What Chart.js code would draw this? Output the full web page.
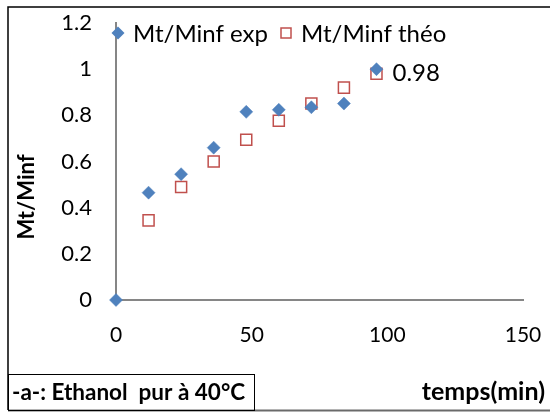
<!DOCTYPE html>
<html>
<head>
<meta charset="utf-8">
<script src="https://cdn.jsdelivr.net/npm/chart.js@4/dist/chart.umd.min.js"></script>
<style>
  html, body { margin: 0; padding: 0; background: #fff; }
  #wrap { width: 550px; height: 414px; position: relative; }
</style>
</head>
<body>
<div id="wrap"><canvas id="c" width="550" height="414"></canvas></div>
<script>
// ---- data ----
const timeMin = [0, 12, 24, 36, 48, 60, 72, 84, 96];
const expValues = [0, 0.465, 0.545, 0.66, 0.815, 0.824, 0.835, 0.851, 1.0];
const theoTime = [12, 24, 36, 48, 60, 72, 84, 96];
const theoValues = [0.345, 0.49, 0.60, 0.694, 0.777, 0.851, 0.92, 0.98];
const xTicks = [0, 50, 100, 150];
const yTicks = [0, 0.2, 0.4, 0.6, 0.8, 1, 1.2];
const seriesNames = ['Mt/Minf exp', 'Mt/Minf th\u00e9o'];
const annotationText = '0.98';
const xTitle = 'temps(min)';
const yTitle = 'Mt/Minf';
const captionText = '-a-: Ethanol  pur \u00e0 40\u00b0C';

const BLUE = '#4F81BD';
const RED = '#C0504D';
const AXIS = '#868686';
const FONT = 'Lato, "Open Sans", sans-serif';

const decor = {
  id: 'decor',
  afterDraw(chart) {
    const ctx = chart.ctx;
    ctx.save();
    // outer frame
    ctx.strokeStyle = '#000';
    ctx.lineWidth = 1.5;
    ctx.beginPath();
    ctx.moveTo(560, 7); ctx.lineTo(8, 7); ctx.lineTo(8, 410);
    ctx.stroke();
    ctx.strokeStyle = '#6a6a6a';
    ctx.lineWidth = 2;
    ctx.beginPath();
    ctx.moveTo(8, 410.5); ctx.lineTo(560, 410.5);
    ctx.stroke();
    // caption box
    ctx.strokeStyle = '#000';
    ctx.lineWidth = 1;
    ctx.strokeRect(8.5, 374.5, 246, 36);
    ctx.fillStyle = '#000';
    ctx.font = 'bold 22.5px ' + FONT;
    ctx.textBaseline = 'middle';
    ctx.textAlign = 'left';
    ctx.fillText(captionText, 12, 393);
    // x title
    ctx.font = 'bold 25px ' + FONT;
    ctx.textAlign = 'right';
    ctx.fillText(xTitle, 545, 392);
    // y title
    ctx.save();
    ctx.translate(27, 197);
    ctx.rotate(-Math.PI / 2);
    ctx.textAlign = 'center';
    ctx.font = 'bold 22px ' + FONT;
    ctx.fillText(yTitle, 0, 0);
    ctx.restore();
    // legend
    ctx.font = '24px ' + FONT;
    ctx.textAlign = 'left';
    const ly = 33;
    ctx.fillStyle = BLUE;
    ctx.beginPath();
    ctx.moveTo(118 - 6.5, ly); ctx.lineTo(118, ly - 6.5); ctx.lineTo(118 + 6.5, ly); ctx.lineTo(118, ly + 6.5);
    ctx.closePath(); ctx.fill();
    ctx.fillStyle = '#000';
    ctx.fillText(seriesNames[0], 133, ly + 1);
    ctx.strokeStyle = RED;
    ctx.lineWidth = 1.5;
    ctx.strokeRect(281, ly - 5, 10, 10);
    ctx.fillStyle = '#000';
    ctx.fillText(seriesNames[1], 301, ly + 1);
    // annotation near last theo point
    const meta = chart.getDatasetMeta(1);
    const last = meta.data[meta.data.length - 1];
    ctx.fillText(annotationText, last.x + 16, last.y - 1);
    ctx.restore();
  }
};

new Chart(document.getElementById('c'), {
  type: 'scatter',
  data: {
    datasets: [
      {
        label: seriesNames[0],
        data: timeMin.map((t, i) => ({ x: t, y: expValues[i] })),
        pointStyle: 'rectRot',
        pointRadius: 6.5,
        pointBackgroundColor: BLUE,
        pointBorderColor: BLUE,
        pointBorderWidth: 0.5,
        order: 1
      },
      {
        label: seriesNames[1],
        data: theoTime.map((t, i) => ({ x: t, y: theoValues[i] })),
        pointStyle: 'rect',
        pointRadius: 7.8,
        pointBackgroundColor: 'rgba(255,255,255,0)',
        pointBorderColor: RED,
        pointBorderWidth: 1.5,
        order: 2
      }
    ]
  },
  options: {
    responsive: false,
    animation: false,
    events: [],
    clip: false,
    layout: { padding: { left: 0, right: 27, top: 23, bottom: 0 } },
    plugins: { legend: { display: false }, tooltip: { enabled: false } },
    scales: {
      x: {
        type: 'linear',
        min: 0, max: 150,
        afterBuildTicks: (s) => { s.ticks = xTicks.map(v => ({ value: v })); },
        afterFit: (s) => { s.height = 114; s.paddingLeft = 0; s.paddingRight = 0; },
        grid: { display: false, drawTicks: true, tickLength: 8, tickColor: AXIS, tickWidth: 2 },
        border: { display: true, color: AXIS, width: 2 },
        ticks: { color: '#000', font: { family: FONT, size: 21 }, padding: 15, maxRotation: 0 }
      },
      y: {
        type: 'linear',
        min: 0, max: 1.2,
        afterBuildTicks: (s) => { s.ticks = yTicks.map(v => ({ value: v })); },
        afterFit: (s) => { s.width = 116; s.paddingTop = 0; s.paddingBottom = 0; },
        grid: { display: false, drawTicks: true, tickLength: 8, tickColor: AXIS, tickWidth: 2 },
        border: { display: true, color: AXIS, width: 2 },
        ticks: { color: '#000', font: { family: FONT, size: 22 }, padding: 16, callback: (v) => String(Math.round(v * 10) / 10) }
      }
    }
  },
  plugins: [decor]
});
</script>
</body>
</html>
